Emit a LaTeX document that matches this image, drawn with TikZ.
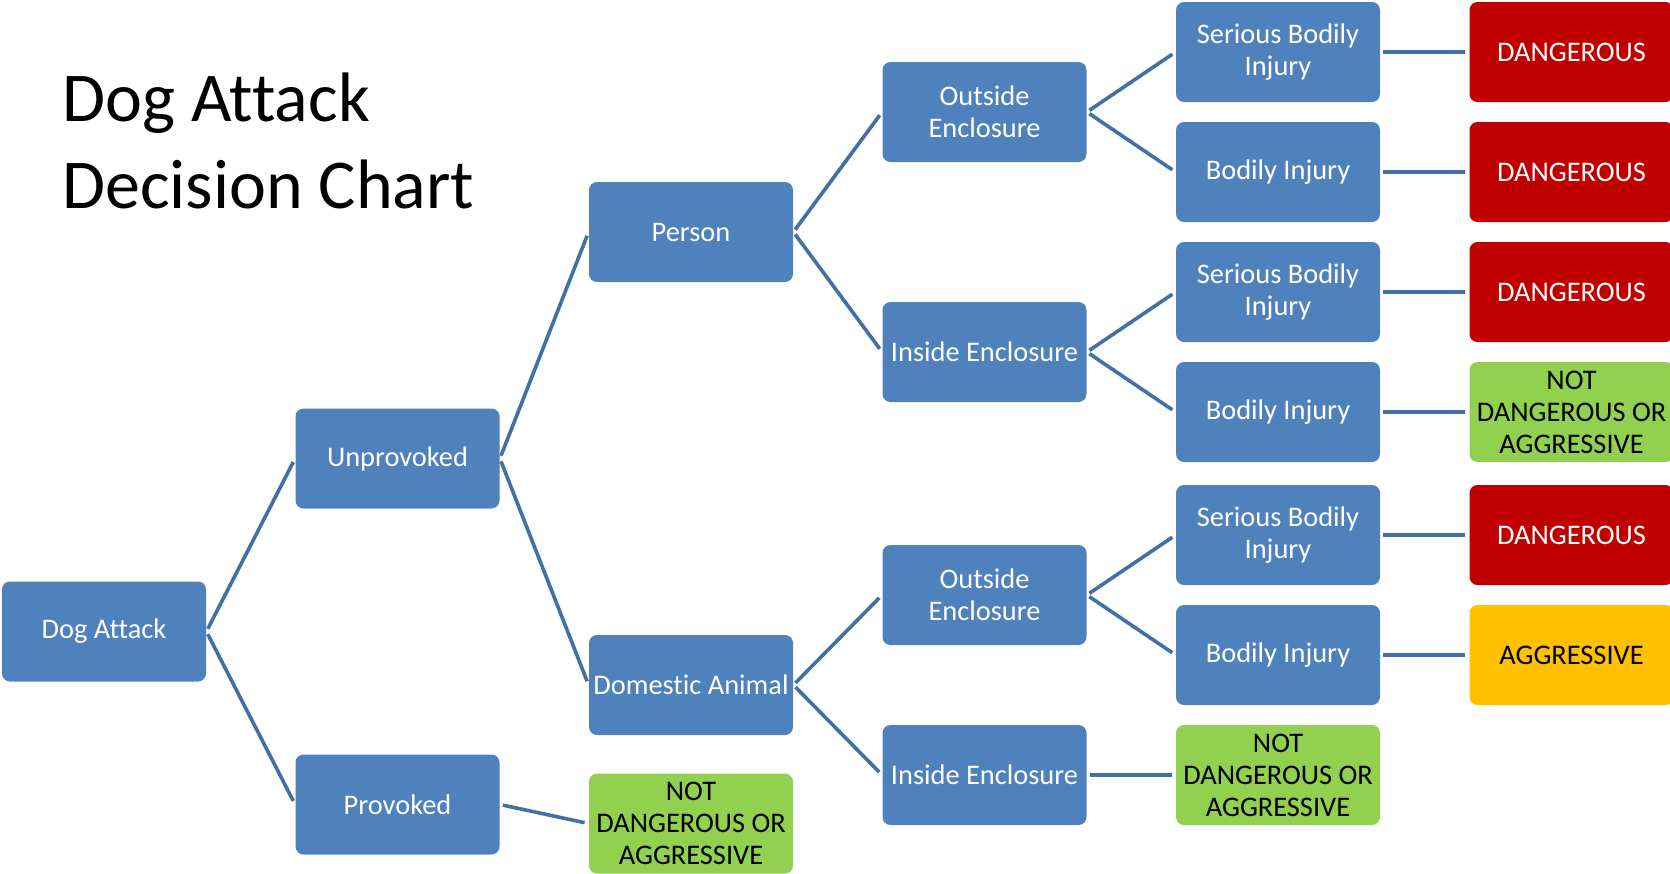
\documentclass[tikz,border=0pt]{standalone}
\usepackage{fontspec}
\setmainfont{Carlito}[Ligatures=NoCommon]
\definecolor{boxblue}{RGB}{79,129,189}
\definecolor{lineblue}{RGB}{65,111,166}
\definecolor{dangerred}{RGB}{192,0,0}
\definecolor{aggrorange}{RGB}{255,192,0}
\definecolor{safegreen}{RGB}{146,208,80}
\begin{document}
\begin{tikzpicture}[
  block/.style={rectangle, rounded corners=4pt, fill=boxblue, text=white, minimum width=102pt, minimum height=50pt, align=center, inner sep=1pt, font=\fontsize{14.2}{16}\selectfont},
  danger/.style={block, fill=dangerred},
  aggr/.style={block, fill=aggrorange, text=black},
  safe/.style={block, fill=safegreen, text=black},
  link/.style={draw=lineblue, line width=1.8pt, shorten <=1.5pt, shorten >=2pt},
  node distance=146.75pt
]
\useasboundingbox (0,0) rectangle (835pt,-436.5pt);
\node[anchor=north west, inner sep=0, align=left, font=\fontsize{35}{43.5}\selectfont] (title) at (31pt,-36pt) {Dog Attack\\Decision Chart};

\node[block] (dog) at (52pt,-315.75pt) {Dog Attack};
\node[block, right of=dog, yshift=86.5pt] (unprov) {Unprovoked};
\node[block, right of=dog, yshift=-86.5pt] (prov) {Provoked};
\node[safe, right of=prov, yshift=-9.5pt] (notprov) {NOT\\DANGEROUS OR\\AGGRESSIVE};

\node[block, right of=unprov, yshift=113.25pt] (person) {Person};
\node[block, right of=unprov, yshift=-113.25pt] (animal) {Domestic Animal};

\node[block, right of=person, yshift=60pt] (outA) {Outside\\Enclosure};
\node[block, right of=person, yshift=-60pt] (inA) {Inside Enclosure};
\node[block, right of=animal, yshift=45pt] (outB) {Outside\\Enclosure};
\node[block, right of=animal, yshift=-45pt] (inB) {Inside Enclosure};

\node[block, right of=outA, yshift=30pt] (sbiA) {Serious Bodily\\Injury};
\node[block, right of=outA, yshift=-30pt] (biA) {Bodily Injury};
\node[block, right of=inA, yshift=30pt] (sbiB) {Serious Bodily\\Injury};
\node[block, right of=inA, yshift=-30pt] (biB) {Bodily Injury};
\node[block, right of=outB, yshift=30pt] (sbiC) {Serious Bodily\\Injury};
\node[block, right of=outB, yshift=-30pt] (biC) {Bodily Injury};
\node[safe, right of=inB] (notB) {NOT\\DANGEROUS OR\\AGGRESSIVE};

\node[danger, right of=sbiA] (resA1) {DANGEROUS};
\node[danger, right of=biA] (resA2) {DANGEROUS};
\node[danger, right of=sbiB] (resB1) {DANGEROUS};
\node[safe, right of=biB] (resB2) {NOT\\DANGEROUS OR\\AGGRESSIVE};
\node[danger, right of=sbiC] (resC1) {DANGEROUS};
\node[aggr, right of=biC] (resC2) {AGGRESSIVE};

\draw[link] (dog.east) -- (unprov.west);
\draw[link] (dog.east) -- (prov.west);
\draw[link] (prov.east) -- (notprov.west);
\draw[link] (unprov.east) -- (person.west);
\draw[link] (unprov.east) -- (animal.west);
\draw[link] (person.east) -- (outA.west);
\draw[link] (person.east) -- (inA.west);
\draw[link] (animal.east) -- (outB.west);
\draw[link] (animal.east) -- (inB.west);
\draw[link] (outA.east) -- (sbiA.west);
\draw[link] (outA.east) -- (biA.west);
\draw[link] (inA.east) -- (sbiB.west);
\draw[link] (inA.east) -- (biB.west);
\draw[link] (outB.east) -- (sbiC.west);
\draw[link] (outB.east) -- (biC.west);
\draw[link] (inB.east) -- (notB.west);
\draw[link] (sbiA.east) -- (resA1.west);
\draw[link] (biA.east) -- (resA2.west);
\draw[link] (sbiB.east) -- (resB1.west);
\draw[link] (biB.east) -- (resB2.west);
\draw[link] (sbiC.east) -- (resC1.west);
\draw[link] (biC.east) -- (resC2.west);
\end{tikzpicture}
\end{document}
